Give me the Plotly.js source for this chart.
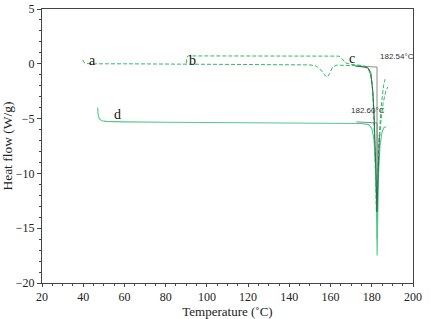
<!DOCTYPE html>
<html>
<head>
<meta charset="utf-8">
<script src="https://cdn.plot.ly/plotly-3.0.1.min.js"></script>
<style>html,body{margin:0;padding:0;background:#fff;}#chart{width:433px;height:319px;}</style>
</head>
<body>
<div id="chart"></div>
<script>
// Curve a (dashed)
var aX = [39.8, 40.5, 41.5, 45, 60, 80, 100, 120, 140, 150, 153, 155.5, 157.5, 158.5, 159.5, 161, 163, 170, 176, 178.5, 180, 181, 181.8, 182.3, 182.8, 183.5, 184.5, 185.7, 186.5];
var aY = [0.35, 0.1, 0.02, 0.0, 0.0, -0.02, -0.03, -0.05, -0.07, -0.1, -0.2, -0.6, -1.1, -1.2, -0.9, -0.3, -0.12, -0.15, -0.2, -0.5, -1.5, -4, -9, -14.2, -11, -7, -4, -2, -1.4];
// Curve b (dashed)
var bX = [90, 90.3, 91, 100, 120, 140, 160, 164, 165.5, 167, 170, 175, 178, 179.5, 180.5, 181.3, 181.9, 182.4, 182.8, 183.4, 184.3, 185.5, 186.8, 187.8];
var bY = [0.05, 0.6, 0.72, 0.72, 0.72, 0.72, 0.72, 0.7, 0.5, 0.1, -0.05, -0.15, -0.3, -0.9, -2.5, -6, -10, -12.5, -10.5, -8, -5.5, -3.6, -2.5, -2.1];
// Curve c (solid dark)
var cX = [172, 175, 178, 179.5, 180.5, 181.2, 181.8, 182.2, 182.5, 182.8, 183.2, 183.7];
var cY = [-0.2, -0.25, -0.35, -0.8, -2.5, -5, -8, -11, -13.5, -12, -9, -6.5];
// Curve d (solid)
var dX = [47, 47.2, 47.8, 49, 51, 60, 80, 100, 120, 140, 160, 175, 178.5, 180, 181, 181.8, 182.3, 182.6, 182.9, 183.3, 184, 185, 186, 187];
var dY = [-4.0, -4.6, -5.0, -5.2, -5.25, -5.3, -5.33, -5.36, -5.38, -5.4, -5.42, -5.45, -5.55, -5.9, -6.8, -9, -13, -17.5, -14, -10, -7.5, -6.2, -5.8, -5.75];
// Onset annotation lines
var onsetX = [172.4, 182.54, 182.54];
var onsetY = [-0.2, -0.3, -14];
var onset2X = [172.5, 182.6, 182.6];
var onset2Y = [-5.3, -5.4, -16];
var curveLabels = ["a", "b", "c", "d"];
var labelX = [44.5, 93, 170.5, 56.5];
var labelY = [0.3, 0.3, 0.5, -4.6];
var onsetText = ["182.54°C", "182.60°C"];
var onsetTextX = [183.2, 178.3];
var onsetTextY = [0.1, -4.85];

var dashCol = '#35b865';
var traces = [
  {x: onsetX, y: onsetY, mode: 'lines', line: {color: '#8a8a8a', width: 1}, hoverinfo: 'skip'},
  {x: onset2X, y: onset2Y, mode: 'lines', line: {color: '#8a8a8a', width: 1}, hoverinfo: 'skip'},
  {x: aX, y: aY, mode: 'lines', line: {color: dashCol, width: 1, dash: '4px,2px'}},
  {x: bX, y: bY, mode: 'lines', line: {color: dashCol, width: 1, dash: '4px,2px'}},
  {x: dX, y: dY, mode: 'lines', line: {color: '#52c98c', width: 1.1}},
  {x: cX, y: cY, mode: 'lines', line: {color: '#1f6b3f', width: 0.9}}
];

var ann = [];
for (var i = 0; i < curveLabels.length; i++) {
  ann.push({x: labelX[i], y: labelY[i], text: curveLabels[i], showarrow: false, xanchor: 'center', yanchor: 'middle',
    font: {family: 'Liberation Serif, serif', size: 14, color: '#111'}});
}
for (var j = 0; j < onsetText.length; j++) {
  ann.push({x: onsetTextX[j], y: onsetTextY[j], text: onsetText[j], showarrow: false, xanchor: j === 0 ? 'left' : 'center', yanchor: 'bottom',
    font: {family: 'Liberation Sans, Arial, sans-serif', size: 8, color: '#333'}});
}

var axisFont = {family: 'Liberation Serif, serif', size: 12, color: '#222'};
var layout = {
  width: 433, height: 319,
  margin: {l: 42, r: 20, t: 9, b: 36},
  paper_bgcolor: '#fff', plot_bgcolor: '#fff',
  showlegend: false,
  annotations: ann,
  xaxis: {
    range: [20, 200], dtick: 20, tick0: 20, ticks: 'outside', ticklen: 3, tickcolor: '#444',
    showline: true, mirror: true, linecolor: '#444', linewidth: 1, showgrid: false, zeroline: false,
    tickfont: axisFont,
    minor: {dtick: 5, ticks: 'outside', ticklen: 2, tickcolor: '#444', showgrid: false},
    title: {text: 'Temperature (˚C)', font: {family: 'Liberation Serif, serif', size: 13, color: '#222'}, standoff: 4}
  },
  yaxis: {
    range: [-20, 5], dtick: 5, ticks: 'outside', ticklen: 4, tickcolor: '#444',
    showline: true, mirror: true, linecolor: '#444', linewidth: 1, showgrid: false, zeroline: false,
    tickfont: axisFont,
    minor: {dtick: 1, ticks: 'outside', ticklen: 2, tickcolor: '#444', showgrid: false},
    title: {text: 'Heat flow (W/g)', font: {family: 'Liberation Serif, serif', size: 13.5, color: '#222'}, standoff: 4}
  }
};
Plotly.newPlot('chart', traces, layout, {displayModeBar: false, staticPlot: true});
</script>
</body>
</html>
